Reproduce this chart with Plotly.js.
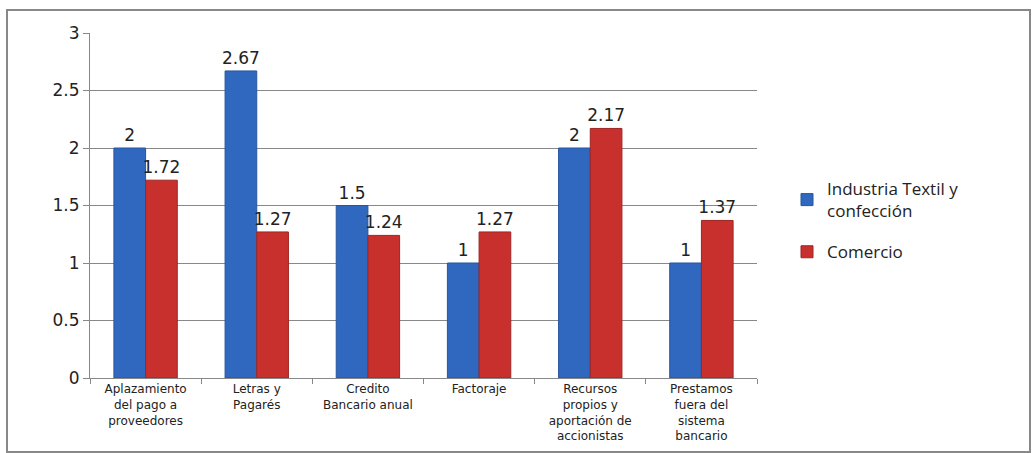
<!DOCTYPE html>
<html>
<head>
<meta charset="utf-8">
<script src="https://cdn.plot.ly/plotly-3.0.1.min.js"></script>
<style>html,body{margin:0;padding:0;background:#fff;}#chart{width:1036px;height:453px;}</style>
</head>
<body>
<div id="chart"></div>
<script>
const categories = [
  "Aplazamiento<br>del pago a<br>proveedores",
  "Letras y<br>Pagarés",
  "Credito<br>Bancario anual",
  "Factoraje",
  "Recursos<br>propios y<br>aportación de<br>accionistas",
  "Prestamos<br>fuera del<br>sistema<br>bancario"
];
const seriesNames = ["Industria Textil y<br>confección", "Comercio"];
const textilValues = [2, 2.67, 1.5, 1, 2, 1];
const comercioValues = [1.72, 1.27, 1.24, 1.27, 2.17, 1.37];
const yTicks = [0, 0.5, 1, 1.5, 2, 2.5, 3];

const labelFont = {family: "DejaVu Sans, sans-serif", size: 17, color: "#222"};

const traces = [
  {
    type: "bar", x: categories, y: textilValues, name: seriesNames[0], legendgroup: "g1",
    marker: {color: "#3068C0", line: {color: "#27559e", width: 1}},
    text: textilValues.map(String), textposition: "outside", textfont: labelFont,
    constraintext: "none", cliponaxis: false
  },
  {
    type: "bar", x: categories, y: comercioValues, name: seriesNames[1], legendgroup: "g2",
    marker: {color: "#C8302E", line: {color: "#9e2523", width: 1}},
    text: comercioValues.map(String), textposition: "outside", textfont: labelFont,
    constraintext: "none", cliponaxis: false
  }
];

const layout = {
  width: 1036, height: 453,
  margin: {l: 90, r: 279, t: 33, b: 75},
  paper_bgcolor: "#fff", plot_bgcolor: "#fff",
  barmode: "group", bargap: 0.43, bargroupgap: 0,
  showlegend: true,
  legend: {
    x: 1.045, y: 0.6, xanchor: "left", yanchor: "top",
    font: {family: "Open Sans, sans-serif", size: 17, color: "#222"},
    tracegroupgap: 16, itemwidth: 30
  },
  xaxis: {
    showline: true, linecolor: "#888", linewidth: 1,
    ticks: "outside", tickson: "boundaries", ticklen: 5, tickcolor: "#888",
    tickfont: {family: "DejaVu Sans, sans-serif", size: 12, color: "#222"},
    tickangle: 0, showgrid: false
  },
  yaxis: {
    range: [0, 3], tickvals: yTicks, ticktext: yTicks.map(String),
    showline: true, linecolor: "#888", linewidth: 1,
    ticks: "outside", ticklen: 6, tickcolor: "#888",
    tickfont: {family: "DejaVu Sans, sans-serif", size: 17, color: "#222"},
    showgrid: true, gridcolor: "#888", gridwidth: 1, zeroline: false
  },
  shapes: [
    {type: "rect", xref: "paper", yref: "paper",
     x0: (7 - 90) / 667, x1: (1030 - 90) / 667,
     y0: (378 - 452) / 345, y1: (378 - 10) / 345,
     line: {color: "#888", width: 2}, fillcolor: "rgba(0,0,0,0)", layer: "below"}
  ]
};

Plotly.newPlot("chart", traces, layout, {displayModeBar: false, staticPlot: true});
</script>
</body>
</html>
